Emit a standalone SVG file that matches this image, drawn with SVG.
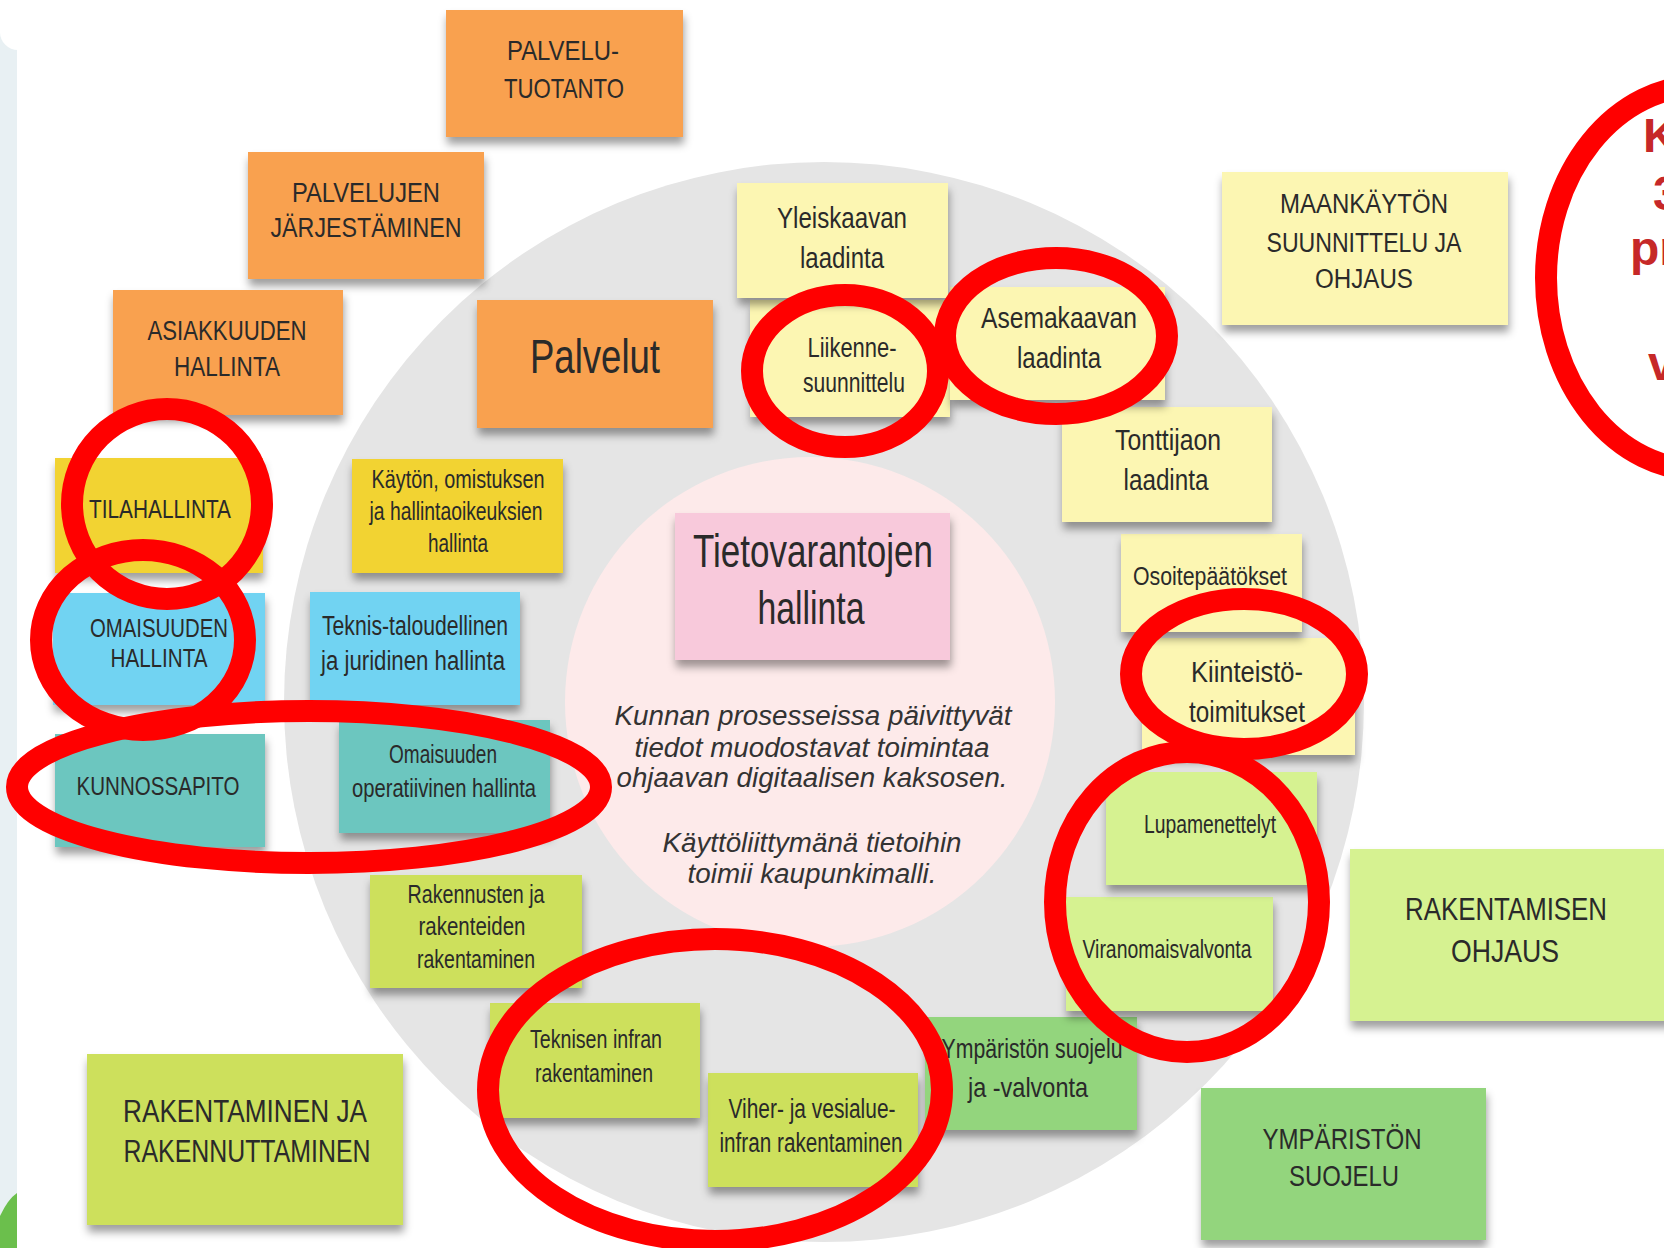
<svg xmlns="http://www.w3.org/2000/svg" width="1664" height="1248" viewBox="0 0 1664 1248">
  <defs>
    <filter id="sh" x="-10%" y="-10%" width="120%" height="145%">
      <feDropShadow dx="1" dy="7" stdDeviation="4" flood-color="#000" flood-opacity="0.38"/>
    </filter>
  </defs>
  <style>
    .note { filter: url(#sh); }
    .orange { fill: #f9a14f; }
    .yellow { fill: #f2d333; }
    .blue { fill: #71d3f2; }
    .teal { fill: #6cc6bf; }
    .pale { fill: #fcf6b2; }
    .lime { fill: #cde05c; }
    .mint { fill: #d6f291; }
    .green { fill: #93d57d; }
    .pink { fill: #f8c9db; }
    .t { font-family: "Liberation Sans", Arial, sans-serif; fill: #2a2a2a; text-anchor: middle; }
    .it { font-family: "Liberation Sans", Arial, sans-serif; font-style: italic; fill: #333; text-anchor: middle; font-size: 27px; }
    .ring { fill: none; stroke: #ff0000; stroke-width: 22; }
    .red { font-family: "Liberation Sans", Arial, sans-serif; font-weight: bold; fill: #c62828; font-size: 48px; }
  </style>

  <!-- page background -->
  <rect width="1664" height="1248" fill="#ffffff"/>
  <rect x="0" y="0" width="17" height="1248" fill="#e8f0f3"/>
  <rect x="0" y="-30" width="60" height="80" rx="18" fill="#ffffff"/>
  <path d="M0 1216 Q8 1199 17 1193 V1248 H0 Z" fill="#6bbf4c"/>

  <!-- process wheel -->
  <circle cx="824" cy="702" r="540" fill="#e5e5e5"/>
  <circle cx="810" cy="702" r="245" fill="#fdeaea"/>

  <!-- outer notes -->
  <g id="palvelutuotanto">
    <rect class="note orange" x="446" y="10" width="237" height="127"/>
    <text class="t" font-size="28"><tspan x="563" y="60" textLength="112" lengthAdjust="spacingAndGlyphs">PALVELU-</tspan><tspan x="564" y="98" textLength="120" lengthAdjust="spacingAndGlyphs">TUOTANTO</tspan></text>
  </g>
  <g id="palvelujen-jarjestaminen">
    <rect class="note orange" x="248" y="152" width="236" height="127"/>
    <text class="t" font-size="27"><tspan x="366" y="202" textLength="148" lengthAdjust="spacingAndGlyphs">PALVELUJEN</tspan><tspan x="366" y="237" textLength="191" lengthAdjust="spacingAndGlyphs">JÄRJESTÄMINEN</tspan></text>
  </g>
  <g id="asiakkuuden-hallinta">
    <rect class="note orange" x="113" y="290" width="230" height="125"/>
    <text class="t" font-size="27"><tspan x="227" y="340" textLength="159" lengthAdjust="spacingAndGlyphs">ASIAKKUUDEN</tspan><tspan x="227" y="376" textLength="106" lengthAdjust="spacingAndGlyphs">HALLINTA</tspan></text>
  </g>
  <g id="maankayton-suunnittelu">
    <rect class="note pale" x="1222" y="172" width="286" height="153"/>
    <text class="t" font-size="27"><tspan x="1364" y="213" textLength="168" lengthAdjust="spacingAndGlyphs">MAANKÄYTÖN</tspan><tspan x="1364" y="252" textLength="195" lengthAdjust="spacingAndGlyphs">SUUNNITTELU JA</tspan><tspan x="1364" y="288" textLength="98" lengthAdjust="spacingAndGlyphs">OHJAUS</tspan></text>
  </g>
  <g id="tilahallinta">
    <rect class="note yellow" x="55" y="458" width="208" height="115"/>
    <text class="t" font-size="26" x="160" y="518" textLength="142" lengthAdjust="spacingAndGlyphs">TILAHALLINTA</text>
  </g>
  <g id="omaisuuden-hallinta">
    <rect class="note blue" x="53" y="593" width="212" height="112"/>
    <text class="t" font-size="26"><tspan x="159" y="637" textLength="138" lengthAdjust="spacingAndGlyphs">OMAISUUDEN</tspan><tspan x="159" y="667" textLength="97" lengthAdjust="spacingAndGlyphs">HALLINTA</tspan></text>
  </g>
  <g id="kunnossapito">
    <rect class="note teal" x="55" y="734" width="210" height="113"/>
    <text class="t" font-size="26" x="158" y="795" textLength="163" lengthAdjust="spacingAndGlyphs">KUNNOSSAPITO</text>
  </g>
  <g id="rakentamisen-ohjaus">
    <rect class="note mint" x="1350" y="849" width="330" height="172"/>
    <text class="t" font-size="32"><tspan x="1506" y="920" textLength="202" lengthAdjust="spacingAndGlyphs">RAKENTAMISEN</tspan><tspan x="1505" y="962" textLength="108" lengthAdjust="spacingAndGlyphs">OHJAUS</tspan></text>
  </g>
  <g id="ympariston-suojelu">
    <rect class="note green" x="1201" y="1088" width="285" height="152"/>
    <text class="t" font-size="30"><tspan x="1342" y="1149" textLength="159" lengthAdjust="spacingAndGlyphs">YMPÄRISTÖN</tspan><tspan x="1344" y="1186" textLength="110" lengthAdjust="spacingAndGlyphs">SUOJELU</tspan></text>
  </g>
  <g id="rakentaminen-rakennuttaminen">
    <rect class="note lime" x="87" y="1054" width="316" height="171"/>
    <text class="t" font-size="32"><tspan x="245" y="1122" textLength="244" lengthAdjust="spacingAndGlyphs">RAKENTAMINEN JA</tspan><tspan x="247" y="1162" textLength="247" lengthAdjust="spacingAndGlyphs">RAKENNUTTAMINEN</tspan></text>
  </g>

  <!-- wheel notes, lower ones first so upper shadows fall on them -->
  <g id="viher-vesialue">
    <rect class="note lime" x="708" y="1073" width="210" height="114"/>
    <text class="t" font-size="27"><tspan x="812" y="1118" textLength="167" lengthAdjust="spacingAndGlyphs">Viher- ja vesialue-</tspan><tspan x="811" y="1152" textLength="183" lengthAdjust="spacingAndGlyphs">infran rakentaminen</tspan></text>
  </g>
  <g id="ympariston-valvonta">
    <rect class="note green" x="925" y="1017" width="212" height="113"/>
    <text class="t" font-size="28"><tspan x="1032" y="1058" textLength="181" lengthAdjust="spacingAndGlyphs">Ympäristön suojelu</tspan><tspan x="1028" y="1097" textLength="120" lengthAdjust="spacingAndGlyphs">ja -valvonta</tspan></text>
  </g>
  <g id="teknisen-infran">
    <rect class="note lime" x="490" y="1003" width="210" height="115"/>
    <text class="t" font-size="26"><tspan x="596" y="1048" textLength="132" lengthAdjust="spacingAndGlyphs">Teknisen infran</tspan><tspan x="594" y="1082" textLength="118" lengthAdjust="spacingAndGlyphs">rakentaminen</tspan></text>
  </g>
  <g id="viranomaisvalvonta">
    <rect class="note mint" x="1066" y="897" width="207" height="114"/>
    <text class="t" font-size="25" x="1167" y="958" textLength="169" lengthAdjust="spacingAndGlyphs">Viranomaisvalvonta</text>
  </g>
  <g id="rakennusten-rakentaminen">
    <rect class="note lime" x="370" y="875" width="212" height="113"/>
    <text class="t" font-size="26"><tspan x="476" y="903" textLength="137" lengthAdjust="spacingAndGlyphs">Rakennusten ja</tspan><tspan x="472" y="935" textLength="107" lengthAdjust="spacingAndGlyphs">rakenteiden</tspan><tspan x="476" y="968" textLength="118" lengthAdjust="spacingAndGlyphs">rakentaminen</tspan></text>
  </g>
  <g id="lupamenettelyt">
    <rect class="note mint" x="1106" y="772" width="211" height="113"/>
    <text class="t" font-size="25" x="1210" y="833" textLength="132" lengthAdjust="spacingAndGlyphs">Lupamenettelyt</text>
  </g>
  <g id="omaisuuden-operatiivinen">
    <rect class="note teal" x="339" y="720" width="211" height="113"/>
    <text class="t" font-size="25"><tspan x="443" y="763" textLength="108" lengthAdjust="spacingAndGlyphs">Omaisuuden</tspan><tspan x="444" y="797" textLength="184" lengthAdjust="spacingAndGlyphs">operatiivinen  hallinta</tspan></text>
  </g>
  <g id="kiinteistotoimitukset">
    <rect class="note pale" x="1142" y="638" width="213" height="117"/>
    <text class="t" font-size="30"><tspan x="1247" y="682" textLength="112" lengthAdjust="spacingAndGlyphs">Kiinteistö-</tspan><tspan x="1247" y="722" textLength="116" lengthAdjust="spacingAndGlyphs">toimitukset</tspan></text>
  </g>
  <g id="teknis-taloudellinen">
    <rect class="note blue" x="310" y="592" width="210" height="113"/>
    <text class="t" font-size="27"><tspan x="415" y="635" textLength="186" lengthAdjust="spacingAndGlyphs">Teknis-taloudellinen</tspan><tspan x="413" y="670" textLength="184" lengthAdjust="spacingAndGlyphs">ja juridinen hallinta</tspan></text>
  </g>
  <g id="osoitepaatokset">
    <rect class="note pale" x="1121" y="534" width="181" height="98"/>
    <text class="t" font-size="26" x="1210" y="585" textLength="154" lengthAdjust="spacingAndGlyphs">Osoitepäätökset</text>
  </g>
  <g id="tietovarantojen-hallinta">
    <rect class="note pink" x="675" y="513" width="275" height="147"/>
    <text class="t" font-size="46"><tspan x="813" y="567" textLength="240" lengthAdjust="spacingAndGlyphs">Tietovarantojen</tspan><tspan x="811" y="624" textLength="107" lengthAdjust="spacingAndGlyphs">hallinta</tspan></text>
  </g>
  <g id="kaytto-omistus">
    <rect class="note yellow" x="352" y="459" width="211" height="114"/>
    <text class="t" font-size="25"><tspan x="458" y="488" textLength="173" lengthAdjust="spacingAndGlyphs">Käytön, omistuksen</tspan><tspan x="456" y="520" textLength="173" lengthAdjust="spacingAndGlyphs">ja hallintaoikeuksien</tspan><tspan x="458" y="552" textLength="60" lengthAdjust="spacingAndGlyphs">hallinta</tspan></text>
  </g>
  <g id="tonttijaon-laadinta">
    <rect class="note pale" x="1062" y="407" width="210" height="115"/>
    <text class="t" font-size="30"><tspan x="1168" y="450" textLength="106" lengthAdjust="spacingAndGlyphs">Tonttijaon</tspan><tspan x="1166" y="490" textLength="85" lengthAdjust="spacingAndGlyphs">laadinta</tspan></text>
  </g>
  <g id="liikennesuunnittelu">
    <rect class="note pale" x="750" y="300" width="200" height="117"/>
    <text class="t" font-size="27"><tspan x="852" y="357" textLength="89" lengthAdjust="spacingAndGlyphs">Liikenne-</tspan><tspan x="854" y="392" textLength="102" lengthAdjust="spacingAndGlyphs">suunnittelu</tspan></text>
  </g>
  <g id="palvelut">
    <rect class="note orange" x="477" y="300" width="236" height="128"/>
    <text class="t" font-size="48" x="595" y="373" textLength="130" lengthAdjust="spacingAndGlyphs">Palvelut</text>
  </g>
  <g id="asemakaavan-laadinta">
    <rect class="note pale" x="950" y="287" width="215" height="113"/>
    <text class="t" font-size="30"><tspan x="1059" y="328" textLength="156" lengthAdjust="spacingAndGlyphs">Asemakaavan</tspan><tspan x="1059" y="368" textLength="84" lengthAdjust="spacingAndGlyphs">laadinta</tspan></text>
  </g>
  <g id="yleiskaavan-laadinta">
    <rect class="note pale" x="737" y="183" width="211" height="115"/>
    <text class="t" font-size="30"><tspan x="842" y="228" textLength="130" lengthAdjust="spacingAndGlyphs">Yleiskaavan</tspan><tspan x="842" y="268" textLength="84" lengthAdjust="spacingAndGlyphs">laadinta</tspan></text>
  </g>

  <!-- description in the wheel centre -->
  <g id="kuvaus">
    <text class="it"><tspan x="813" y="725" textLength="397" lengthAdjust="spacingAndGlyphs">Kunnan prosesseissa päivittyvät</tspan><tspan x="812" y="757" textLength="355" lengthAdjust="spacingAndGlyphs">tiedot muodostavat toimintaa</tspan><tspan x="812" y="787" textLength="391" lengthAdjust="spacingAndGlyphs">ohjaavan digitaalisen kaksosen.</tspan><tspan x="812" y="852" textLength="299" lengthAdjust="spacingAndGlyphs">Käyttöliittymänä tietoihin</tspan><tspan x="812" y="883" textLength="249" lengthAdjust="spacingAndGlyphs">toimii kaupunkimalli.</tspan></text>
  </g>

  <!-- red highlight rings -->
  <g id="korostukset">
    <ellipse class="ring" cx="167" cy="504" rx="95" ry="95"/>
    <ellipse class="ring" cx="143" cy="640" rx="102" ry="90"/>
    <ellipse class="ring" cx="309" cy="787" rx="292" ry="76"/>
    <ellipse class="ring" cx="845" cy="371" rx="93" ry="76"/>
    <ellipse class="ring" cx="1056" cy="336" rx="111" ry="78"/>
    <ellipse class="ring" cx="1244" cy="674" rx="113" ry="75"/>
    <ellipse class="ring" cx="1187" cy="902" rx="132" ry="150"/>
    <ellipse class="ring" cx="715" cy="1090" rx="227" ry="151"/>
    <ellipse class="ring" cx="1700" cy="278" rx="154" ry="192"/>
  </g>
  <g id="huomautus">
    <text class="red" x="1643" y="152">K</text>
    <text class="red" x="1653" y="210">3</text>
    <text class="red" x="1630" y="265">pr</text>
    <text class="red" x="1648" y="380">v</text>
  </g>
</svg>
